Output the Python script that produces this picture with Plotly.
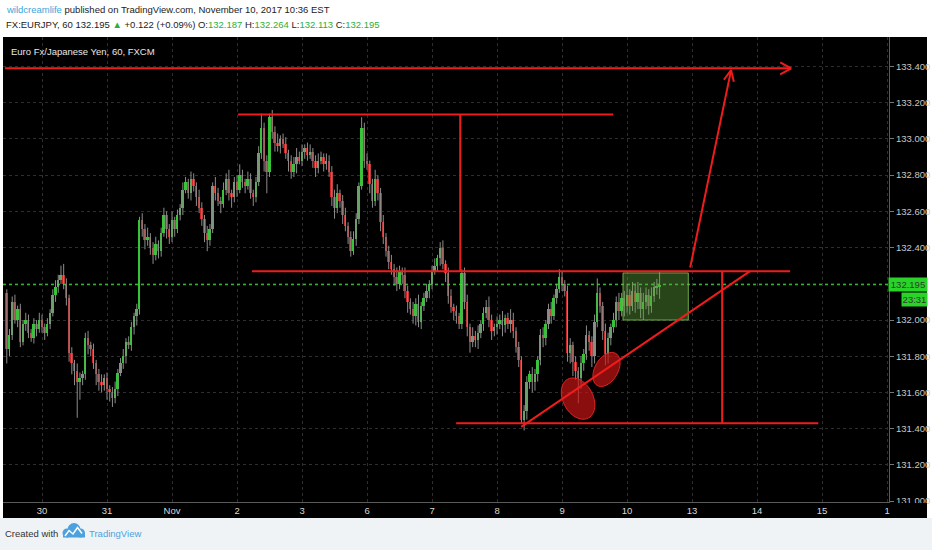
import math
import plotly.graph_objects as go

# ---------------- data (EUR/JPY, 60 min, FXCM) ----------------
day_labels = ["30", "31", "Nov", "2", "3", "6", "7", "8", "9", "10", "13", "14", "15", "1"]
first_session_bar = 13      # bar index where the "30" session starts
bars_per_day = 24

open_first = 132.15
closes = [
    131.84, 131.92, 132.10, 132.00, 132.06, 131.88, 131.98, 132.00, 131.93, 131.90, 131.98, 131.95,
    132.00, 131.96, 131.93, 131.98, 132.04, 132.14, 132.18, 132.22, 132.25, 132.20, 132.12, 131.82,
    131.76, 131.72, 131.66, 131.68, 131.70, 131.90, 131.86, 131.84, 131.76, 131.70, 131.66, 131.64,
    131.68, 131.62, 131.60, 131.57, 131.62, 131.71, 131.76, 131.80, 131.88, 131.86, 131.96, 132.02,
    132.06, 132.55, 132.50, 132.44, 132.46, 132.40, 132.36, 132.42, 132.38, 132.48, 132.58, 132.50,
    132.46, 132.55, 132.50, 132.58, 132.62, 132.72, 132.76, 132.70, 132.78, 132.74, 132.68, 132.62,
    132.56, 132.48, 132.44, 132.50, 132.74, 132.70, 132.66, 132.64, 132.72, 132.78, 132.70, 132.68,
    132.76, 132.72, 132.80, 132.76, 132.74, 132.78, 132.70, 132.68, 132.76, 132.92, 133.06, 132.88,
    132.82, 133.12, 133.04, 132.98, 132.96, 133.00, 132.97, 132.92, 132.88, 132.82, 132.86, 132.90,
    132.88, 132.93, 132.95, 132.91, 132.93, 132.88, 132.84, 132.88, 132.90, 132.86, 132.88, 132.82,
    132.68, 132.62, 132.70, 132.66, 132.58, 132.52, 132.46, 132.38, 132.45, 132.56, 132.74, 133.06,
    132.88, 132.86, 132.75, 132.66, 132.78, 132.70, 132.54, 132.46, 132.38, 132.32, 132.28, 132.24,
    132.20, 132.27, 132.25, 132.16, 132.10, 132.06, 132.02, 132.09, 131.99, 132.08, 132.12, 132.16,
    132.20, 132.27, 132.30, 132.34, 132.40, 132.31, 132.26, 132.13, 132.07, 132.05, 132.02, 131.98,
    132.26, 132.10, 131.96, 131.88, 131.91, 131.89, 131.93, 131.98, 132.04, 132.07, 132.00, 131.94,
    131.96, 131.98, 132.00, 131.97, 132.01, 131.98, 132.00, 131.94, 131.85, 131.78, 131.45, 131.50,
    131.66, 131.70, 131.66, 131.70, 131.78, 131.92, 131.90, 131.98, 132.06, 132.02, 132.12, 132.17,
    132.24, 132.20, 132.16, 131.82, 131.86, 131.77, 131.72, 131.68, 131.76, 131.81, 131.92, 131.88,
    131.80, 131.99, 132.15, 132.08, 131.94, 131.81, 131.90, 131.96, 132.00, 132.10, 132.05, 132.12,
    132.08, 132.14, 132.08, 132.16, 132.10, 132.15, 132.06, 132.10, 132.14, 132.08, 132.13, 132.18,
    132.187, 132.195,
]
# wick lengths beyond the body, in 0.01 JPY
upper_wick = [
    2, 3, 3, 4, 2, 3, 2, 4, 3, 2, 3, 2, 4, 3, 2, 3, 2, 3, 4, 3, 5, 6, 3, 2,
    3, 2, 4, 3, 2, 3, 4, 2, 3, 2, 3, 4, 2, 3, 2, 3, 4, 2, 3, 4, 2, 3, 3, 2,
    3, 2, 4, 3, 5, 2, 3, 4, 2, 3, 4, 2, 3, 5, 2, 3, 2, 4, 3, 2, 4, 3, 2, 4,
    3, 2, 4, 3, 2, 5, 3, 2, 4, 3, 5, 2, 3, 4, 6, 3, 2, 4, 3, 2, 3, 4, 8, 3,
    3, 2, 4, 3, 5, 2, 3, 4, 2, 3, 4, 5, 3, 4, 2, 3, 4, 2, 3, 4, 3, 2, 4, 3,
    3, 4, 5, 2, 3, 4, 2, 3, 4, 3, 2, 6, 3, 4, 2, 3, 5, 2, 3, 4, 2, 3, 4, 3,
    5, 3, 2, 4, 3, 2, 4, 3, 5, 2, 3, 4, 2, 3, 4, 2, 3, 4, 2, 3, 4, 2, 3, 2,
    2, 3, 4, 2, 5, 3, 4, 2, 3, 4, 6, 3, 2, 4, 3, 5, 2, 3, 6, 4, 2, 3, 2, 3,
    3, 2, 4, 3, 2, 3, 4, 2, 3, 4, 2, 3, 4, 3, 2, 3, 4, 2, 3, 2, 4, 3, 5, 2,
    3, 4, 8, 3, 2, 4, 3, 2, 4, 3, 5, 3, 4, 6, 3, 5, 4, 6, 3, 5, 4, 3, 5, 3,
    4, 7,
]
lower_wick = [
    8, 4, 3, 2, 4, 3, 2, 4, 3, 2, 3, 4, 2, 3, 4, 2, 3, 2, 4, 3, 2, 3, 4, 5,
    6, 8, 20, 10, 4, 3, 5, 4, 3, 6, 5, 4, 3, 6, 5, 5, 3, 4, 2, 3, 4, 2, 3, 4,
    5, 3, 4, 5, 3, 4, 5, 3, 4, 3, 2, 5, 4, 3, 4, 2, 3, 4, 2, 3, 4, 3, 5, 3,
    4, 5, 6, 3, 2, 4, 3, 5, 2, 3, 4, 6, 3, 4, 2, 3, 4, 2, 3, 5, 3, 2, 3, 6,
    12, 3, 4, 5, 3, 4, 2, 3, 6, 4, 3, 5, 2, 3, 4, 3, 2, 4, 5, 3, 2, 4, 3, 3,
    5, 6, 3, 4, 5, 3, 4, 3, 2, 4, 3, 2, 4, 3, 5, 4, 3, 4, 5, 4, 3, 4, 3, 5,
    4, 3, 5, 4, 6, 3, 4, 5, 3, 4, 3, 2, 4, 3, 2, 3, 4, 3, 5, 4, 3, 5, 4, 3,
    3, 4, 5, 6, 3, 4, 5, 3, 4, 3, 4, 5, 3, 4, 3, 6, 4, 3, 5, 4, 3, 4, 2, 6,
    5, 4, 6, 5, 4, 3, 5, 4, 3, 4, 2, 3, 2, 4, 3, 5, 6, 8, 5, 14, 6, 4, 3, 5,
    6, 4, 3, 4, 5, 6, 5, 4, 3, 4, 5, 3, 6, 4, 5, 3, 6, 4, 5, 6, 4, 5, 4, 3,
    4, 7,
]

last_price = 132.195
last_countdown = "23:31"
y_ticks = [131.0, 131.2, 131.4, 131.6, 131.8, 132.0, 132.2, 132.4, 132.6, 132.8, 133.0, 133.2, 133.4]
# 132.200 label is hidden behind the last-price marker in the original
y_tick_text = ["131.000", "131.200", "131.400", "131.600", "131.800", "132.000", "",
               "132.400", "132.600", "132.800", "133.000", "133.200", "133.400"]

# ---- chart drawings (anchored in bar-index / price coordinates) ----
top_target_price = 133.39
top_target_x = (-0.7, 289.6)
pattern_top_price = 133.135
pattern_top_x = (85.4, 223.9)
neckline_price = 132.27
neckline_x = (90.5, 289.2)
support_price = 131.43
support_x = (165.9, 299.6)
measure1_x = 167.4
measure2_x = 264.1
trend_line = [(189.9, 131.41), (274.4, 132.27)]
target_arrow = [(252.3, 132.29), (267.4, 133.38)]
consolidation_box = (227.5, 251.6, 132.00, 132.26)
# (bar idx, price, semi-major px, semi-minor px, screen angle deg)
ellipses = [(210.9, 131.566, 22, 15, 62), (221.4, 131.727, 18.5, 11.5, -60)]

# ---------------- layout geometry ----------------
W, H = 932, 550
ML, MR, MT, MB = 3, 43, 37, 48
PW, PH = W - ML - MR, H - MT - MB
X_RANGE = [-1.4, 325.7]
Y_RANGE = [130.995, 133.563]
XS = (X_RANGE[1] - X_RANGE[0]) / PW
YS = (Y_RANGE[1] - Y_RANGE[0]) / PH


def pp(px, py):
    """pixel -> paper coords (for page decorations)"""
    return (px - ML) / PW, (H - MB - py) / PH


def off(x, y, dxp, dyp):
    return x + dxp * XS, y - dyp * YS


# ---------------- candles ----------------
n = min(len(closes), len(upper_wick), len(lower_wick))
closes = closes[:n]
opens = [open_first] + closes[:-1]
idx = list(range(n))
highs = [max(o, c) + u / 100 for o, c, u in zip(opens, closes, upper_wick)]
lows = [min(o, c) - l / 100 for o, c, l in zip(opens, closes, lower_wick)]

UP, DOWN, WICK = "#35c435", "#cf2424", "#8c8c8c"

wx, wy = [], []
for i, hi, lo in zip(idx, highs, lows):
    wx += [i, i, None]
    wy += [lo, hi, None]

fig = go.Figure()
fig.add_trace(go.Scatter(x=wx, y=wy, mode="lines", line=dict(color=WICK, width=1),
                         hoverinfo="skip", showlegend=False))
fig.add_trace(go.Bar(
    x=idx,
    y=[max(abs(c - o), 0.004) for o, c in zip(opens, closes)],
    base=[min(o, c) for o, c in zip(opens, closes)],
    width=0.72,
    marker=dict(color=[UP if c >= o else DOWN for o, c in zip(opens, closes)], line=dict(width=0)),
    showlegend=False, hoverinfo="skip",
))

shapes = []
RED = "#f01c1c"

# page backgrounds
x0p, y0p = pp(0, 518)
x1p, y1p = pp(W, H)
shapes.append(dict(type="rect", xref="paper", yref="paper", x0=x0p, x1=x1p, y0=y0p, y1=y1p,
                   fillcolor="#f0f3f6", line=dict(width=0), layer="below"))
bx0, by0 = pp(3, 518)
bx1, by1 = pp(927, 37)
shapes.append(dict(type="rect", xref="paper", yref="paper", x0=bx0, x1=bx1, y0=by0, y1=by1,
                   fillcolor="#000000", line=dict(width=0), layer="below"))


def seg(xa, ya, xb, yb, color=RED, width=2):
    shapes.append(dict(type="line", xref="x", yref="y", x0=xa, y0=ya, x1=xb, y1=yb,
                       line=dict(color=color, width=width), layer="above"))


# current price dotted line
shapes.append(dict(type="line", xref="paper", yref="y", x0=0, x1=1, y0=last_price, y1=last_price,
                   line=dict(color="#3fe03f", width=1, dash="dot"), layer="above"))

# consolidation box
shapes.append(dict(type="rect", xref="x", yref="y",
                   x0=consolidation_box[0], x1=consolidation_box[1],
                   y0=consolidation_box[2], y1=consolidation_box[3],
                   fillcolor="rgba(95,165,60,0.42)", line=dict(color="rgba(120,185,80,0.9)", width=1),
                   layer="above"))

# ellipses
for cx, cy, a, b, ang in ellipses:
    t = math.radians(ang)
    pts = []
    for k in range(49):
        u = 2 * math.pi * k / 48
        dx = a * math.cos(u) * math.cos(t) - b * math.sin(u) * math.sin(t)
        dy = a * math.cos(u) * math.sin(t) + b * math.sin(u) * math.cos(t)
        px_, py_ = off(cx, cy, dx, dy)
        pts.append(f"{px_:.4f},{py_:.5f}")
    path = "M " + " L ".join(pts) + " Z"
    shapes.append(dict(type="path", xref="x", yref="y", path=path,
                       fillcolor="rgba(205,20,20,0.68)", line=dict(color="rgba(235,40,40,0.9)", width=1),
                       layer="above"))

# horizontal / vertical pattern lines
seg(top_target_x[0], top_target_price, top_target_x[1], top_target_price)
ax, ay = off(top_target_x[1], top_target_price, -11, -6)
bx, by = off(top_target_x[1], top_target_price, -11, 6)
seg(ax, ay, top_target_x[1], top_target_price)
seg(bx, by, top_target_x[1], top_target_price)

seg(pattern_top_x[0], pattern_top_price, pattern_top_x[1], pattern_top_price)
seg(measure1_x, pattern_top_price, measure1_x, neckline_price)
seg(neckline_x[0], neckline_price, neckline_x[1], neckline_price)
seg(measure2_x, neckline_price, measure2_x, support_price)
seg(support_x[0], support_price, support_x[1], support_price)
seg(trend_line[0][0], trend_line[0][1], trend_line[1][0], trend_line[1][1])

# target arrow
(sx, sy), (tx, ty) = target_arrow
dxp = (tx - sx) / XS
dyp = -(ty - sy) / YS
L = math.hypot(dxp, dyp)
ux, uy = dxp / L, dyp / L
seg(sx, sy, tx, ty)
for sgn in (1, -1):
    a_ = math.radians(25 * sgn)
    hx, hy = off(tx, ty, 12 * (-ux * math.cos(a_) - uy * math.sin(a_)),
                 12 * (ux * math.sin(a_) - uy * math.cos(a_)))
    seg(hx, hy, tx, ty)

# cover lower half of the clipped 131.000 label
cx0, cy0 = pp(890, 517)
cx1, cy1 = pp(927, 503)
shapes.append(dict(type="rect", xref="paper", yref="paper", x0=cx0, x1=cx1, y0=cy0, y1=cy1,
                   fillcolor="#000000", line=dict(width=0), layer="above"))

# TradingView logo
for (lx, ly, r) in [(67, 533, 4.5), (74, 529.5, 6.5), (80.5, 533, 4.5)]:
    a0, b0 = pp(lx - r, ly + r)
    a1, b1 = pp(lx + r, ly - r)
    shapes.append(dict(type="circle", xref="paper", yref="paper", x0=a0, x1=a1, y0=b0, y1=b1,
                       fillcolor="#4da2de", line=dict(width=0)))
a0, b0 = pp(63, 537.5)
a1, b1 = pp(85, 533)
shapes.append(dict(type="rect", xref="paper", yref="paper", x0=a0, x1=a1, y0=b0, y1=b1,
                   fillcolor="#4da2de", line=dict(width=0)))
zz = [pp(65, 536), pp(69, 530.5), pp(73, 534), pp(77.5, 527.5), pp(82, 533.5)]
shapes.append(dict(type="path", xref="paper", yref="paper",
                   path="M " + " L ".join(f"{p[0]:.5f},{p[1]:.5f}" for p in zz),
                   line=dict(color="#ffffff", width=1.5)))

FONT = "Liberation Sans, Arial, sans-serif"
G = "#2fae3a"
annotations = []
hx1, hy1 = pp(4, 10)
annotations.append(dict(xref="paper", yref="paper", x=hx1, y=hy1, xanchor="left", yanchor="middle",
                        showarrow=False, font=dict(family=FONT, size=9.5, color="#222222"),
                        text="<span style='color:#3aa6da'>wildcreamlife</span> published on TradingView.com, November 10, 2017 10:36 EST"))
hx2, hy2 = pp(4, 25)
annotations.append(dict(xref="paper", yref="paper", x=hx2, y=hy2, xanchor="left", yanchor="middle",
                        showarrow=False, font=dict(family=FONT, size=9.5, color="#222222"),
                        text=("FX:EURJPY, 60 132.195 <span style='color:%s'>▲</span> +0.122 (+0.09%%) "
                              "O:<span style='color:%s'>132.187</span> H:<span style='color:%s'>132.264</span> "
                              "L:<span style='color:%s'>132.113</span> C:<span style='color:%s'>132.195</span>")
                        % (G, G, G, G, G)))
tx_, ty_ = pp(9, 52)
annotations.append(dict(xref="paper", yref="paper", x=tx_, y=ty_, xanchor="left", yanchor="middle",
                        showarrow=False, font=dict(family=FONT, size=9.5, color="#e8e8e8"),
                        text="Euro Fx/Japanese Yen, 60, FXCM"))
lx_, _ = pp(908, 0)
annotations.append(dict(xref="paper", yref="y", x=lx_, y=last_price, xanchor="center", yanchor="middle",
                        showarrow=False, bgcolor="#28d428", borderpad=1, width=36,
                        font=dict(family=FONT, size=9.5, color="#2b3b2b"), text=f"{last_price:.3f}"))
cx_, _ = pp(914.5, 0)
annotations.append(dict(xref="paper", yref="y", x=cx_, y=last_price - 15 * YS, xanchor="center",
                        yanchor="middle", showarrow=False, bgcolor="#28d428", borderpad=1, width=23,
                        font=dict(family=FONT, size=9.5, color="#2b3b2b"), text=last_countdown))
fx_, fy_ = pp(3, 533)
annotations.append(dict(xref="paper", yref="paper", x=fx_, y=fy_, xanchor="left", yanchor="middle",
                        showarrow=False, font=dict(family=FONT, size=9.5, color="#333333"),
                        text="Created with"))
fx2, fy2 = pp(87, 533)
annotations.append(dict(xref="paper", yref="paper", x=fx2, y=fy2, xanchor="left", yanchor="middle",
                        showarrow=False, font=dict(family=FONT, size=9.5, color="#4da2de"),
                        text="TradingView"))

tick_idx = [first_session_bar + bars_per_day * k for k in range(len(day_labels))]

fig.update_layout(
    width=W, height=H,
    margin=dict(l=ML, r=MR, t=MT, b=MB, pad=0, autoexpand=False),
    paper_bgcolor="#ffffff", plot_bgcolor="#000000",
    showlegend=False, bargap=0, barmode="overlay",
    shapes=shapes, annotations=annotations,
    xaxis=dict(range=X_RANGE, tickvals=tick_idx, ticktext=day_labels, showgrid=True,
               gridcolor="#2e2e2e", griddash="dot", gridwidth=1, zeroline=False,
               showline=True, linecolor="#5a5a5a", linewidth=1, ticks="", automargin=False,
               tickfont=dict(family=FONT, size=9.5, color="#d8d8d8"), fixedrange=True),
    yaxis=dict(range=Y_RANGE, side="right", tickvals=y_ticks, ticktext=y_tick_text,
               showgrid=True, gridcolor="#2e2e2e", griddash="dot", gridwidth=1, zeroline=False,
               showline=True, linecolor="#5a5a5a", linewidth=1, ticks="outside", ticklen=4,
               tickcolor="#777777", tickfont=dict(family=FONT, size=9.5, color="#c8c8c8"),
               automargin=False, fixedrange=True),
)

fig.write_html("out.html", config={"displayModeBar": False},
               post_script="document.body.style.margin='0';document.body.style.padding='0';")
